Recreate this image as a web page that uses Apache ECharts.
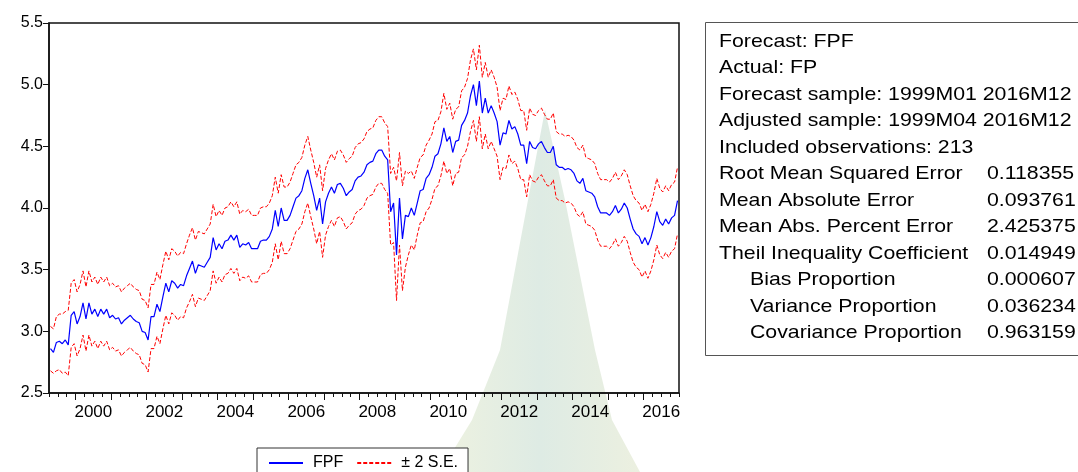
<!DOCTYPE html>
<html>
<head>
<meta charset="utf-8">
<script src="https://cdn.jsdelivr.net/npm/echarts@6/dist/echarts.min.js"></script>
<style>
html,body{margin:0;padding:0;background:#fff;}
#wrap{position:relative;width:1078px;height:472px;}
#bg{position:absolute;left:0;top:0;width:1078px;height:472px;}
#main{position:absolute;left:0;top:0;width:1078px;height:472px;}
</style>
</head>
<body>
<div id="wrap">
<svg id="bg" width="1078" height="472" xmlns="http://www.w3.org/2000/svg">
  <defs>
    <linearGradient id="wm" x1="0" y1="0" x2="1" y2="0">
      <stop offset="0" stop-color="rgb(238,242,224)"/>
      <stop offset="0.5" stop-color="rgb(222,235,228)"/>
      <stop offset="1" stop-color="rgb(236,240,224)"/>
    </linearGradient>
  </defs>
  <polygon points="545,110 565,200 595,350 612,420 640,472 440,472 472,420 500,350 528,200" fill="url(#wm)"/>
</svg>
<div id="main"></div>
</div>
<script>
// Monthly observations 1999M04 .. 2016M12 (213 obs)
const startYear = 1999, startMonth = 4, nObs = 213;
const months = [];
for (let i = 0; i < nObs; i++) {
  const m = startMonth - 1 + i;
  const y = startYear + Math.floor(m / 12);
  const mm = (m % 12) + 1;
  months.push(y + 'M' + (mm < 10 ? '0' + mm : mm));
}

// Forecast FPF
const fpf = [
  2.86,2.83,2.91,2.92,2.90,2.93,2.89,3.13,3.16,3.06,
  3.12,3.23,3.10,3.23,3.14,3.18,3.12,3.18,3.14,3.18,
  3.11,3.13,3.10,3.11,3.06,3.09,3.11,3.13,3.10,3.08,
  3.07,3.00,2.99,2.93,3.12,3.12,3.22,3.16,3.28,3.39,
  3.32,3.41,3.39,3.35,3.38,3.37,3.45,3.51,3.57,3.47,
  3.54,3.53,3.52,3.56,3.60,3.76,3.66,3.71,3.67,3.73,
  3.74,3.78,3.74,3.78,3.68,3.71,3.70,3.72,3.67,3.67,
  3.67,3.73,3.74,3.74,3.77,3.83,3.98,3.85,4.00,3.90,
  3.90,3.94,4.01,4.08,4.10,4.14,4.24,4.31,4.20,4.10,
  3.98,4.08,3.87,4.05,4.12,4.17,4.12,4.19,4.20,4.16,
  4.10,4.13,4.15,4.22,4.25,4.26,4.29,4.35,4.37,4.38,
  4.44,4.47,4.47,4.42,4.39,3.97,4.04,3.62,4.08,3.75,
  3.94,3.93,4.00,3.94,4.04,4.14,4.15,4.24,4.27,4.33,
  4.42,4.44,4.52,4.65,4.54,4.58,4.45,4.54,4.55,4.67,
  4.71,4.77,4.91,5.00,4.83,5.03,4.77,4.89,4.77,4.83,
  4.77,4.70,4.51,4.61,4.60,4.71,4.64,4.66,4.60,4.51,
  4.51,4.36,4.54,4.49,4.48,4.52,4.54,4.49,4.45,4.45,
  4.50,4.35,4.33,4.33,4.31,4.32,4.31,4.28,4.22,4.20,
  4.24,4.14,4.13,4.12,4.09,4.01,3.96,3.96,3.96,3.94,
  3.97,4.02,3.96,3.99,4.04,4.00,3.91,3.83,3.79,3.77,
  3.71,3.76,3.70,3.76,3.85,3.97,3.89,3.86,3.91,3.87,
  3.92,3.94,4.06
];

// Upper band (+2 S.E.)
const upper = [
  3.04,3.02,3.12,3.14,3.14,3.16,3.17,3.39,3.42,3.32,
  3.38,3.49,3.36,3.49,3.40,3.44,3.38,3.44,3.40,3.44,
  3.37,3.39,3.36,3.37,3.32,3.35,3.37,3.39,3.36,3.34,
  3.33,3.26,3.25,3.19,3.38,3.38,3.48,3.42,3.54,3.65,
  3.58,3.67,3.65,3.61,3.64,3.63,3.71,3.78,3.84,3.74,
  3.81,3.80,3.79,3.83,3.87,4.03,3.93,3.98,3.94,4.00,
  4.01,4.05,4.01,4.05,3.95,3.98,3.97,3.99,3.94,3.94,
  3.94,4.00,4.01,4.01,4.04,4.10,4.25,4.12,4.27,4.17,
  4.17,4.21,4.28,4.35,4.37,4.41,4.51,4.58,4.47,4.37,
  4.25,4.35,4.14,4.32,4.39,4.44,4.39,4.46,4.47,4.43,
  4.37,4.40,4.42,4.49,4.52,4.53,4.56,4.62,4.64,4.65,
  4.71,4.74,4.74,4.69,4.66,4.28,4.33,4.22,4.45,4.18,
  4.30,4.28,4.30,4.24,4.33,4.41,4.43,4.51,4.55,4.60,
  4.70,4.71,4.78,4.93,4.80,4.85,4.72,4.80,4.82,4.95,
  4.98,5.05,5.20,5.29,5.12,5.32,5.06,5.18,5.06,5.12,
  5.06,4.98,4.79,4.89,4.88,4.99,4.92,4.94,4.88,4.79,
  4.79,4.63,4.81,4.76,4.75,4.79,4.81,4.76,4.72,4.72,
  4.77,4.62,4.60,4.60,4.58,4.59,4.58,4.55,4.49,4.47,
  4.51,4.41,4.40,4.39,4.36,4.28,4.23,4.23,4.23,4.21,
  4.24,4.29,4.23,4.26,4.31,4.27,4.18,4.10,4.06,4.04,
  3.98,4.03,3.97,4.03,4.12,4.24,4.16,4.13,4.18,4.14,
  4.19,4.21,4.33
];

// Lower band (-2 S.E.)
const lower = [
  2.68,2.66,2.68,2.69,2.66,2.67,2.64,2.87,2.90,2.80,
  2.86,2.97,2.84,2.97,2.88,2.92,2.86,2.92,2.88,2.92,
  2.85,2.87,2.84,2.85,2.80,2.83,2.85,2.87,2.84,2.82,
  2.81,2.74,2.73,2.67,2.86,2.86,2.96,2.90,3.02,3.13,
  3.06,3.15,3.13,3.09,3.12,3.11,3.19,3.24,3.30,3.20,
  3.27,3.26,3.25,3.29,3.33,3.49,3.39,3.44,3.40,3.46,
  3.47,3.51,3.47,3.51,3.41,3.44,3.43,3.45,3.40,3.40,
  3.40,3.46,3.47,3.47,3.50,3.56,3.71,3.58,3.73,3.63,
  3.63,3.67,3.74,3.81,3.83,3.87,3.97,4.04,3.93,3.83,
  3.71,3.81,3.60,3.78,3.85,3.90,3.85,3.92,3.93,3.89,
  3.83,3.86,3.88,3.95,3.98,3.99,4.02,4.08,4.10,4.11,
  4.17,4.20,4.20,4.15,4.12,3.70,3.72,3.25,3.70,3.33,
  3.52,3.62,3.70,3.66,3.78,3.88,3.89,3.97,4.00,4.07,
  4.16,4.18,4.26,4.38,4.28,4.32,4.18,4.28,4.29,4.41,
  4.43,4.50,4.62,4.71,4.54,4.74,4.48,4.60,4.48,4.54,
  4.48,4.42,4.23,4.33,4.32,4.43,4.36,4.38,4.32,4.23,
  4.23,4.09,4.27,4.22,4.21,4.25,4.27,4.22,4.18,4.18,
  4.23,4.08,4.06,4.06,4.04,4.05,4.04,4.01,3.95,3.93,
  3.97,3.87,3.86,3.85,3.82,3.74,3.69,3.69,3.69,3.67,
  3.70,3.75,3.69,3.72,3.77,3.73,3.64,3.56,3.52,3.50,
  3.44,3.49,3.43,3.49,3.58,3.70,3.62,3.59,3.64,3.60,
  3.65,3.67,3.79
];

// Axis ticks / labels (axis unit = one month, 0 = start of 1999M04)
const yearTickPos = [9,21,33,45,57,69,81,93,105,117,129,141,153,165,177,189,201];
const yearLabelPos = [15,39,63,87,111,135,159,183,207];
const yearLabels = ['2000','2002','2004','2006','2008','2010','2012','2014','2016'];
const yTicks = ['2.5','3.0','3.5','4.0','4.5','5.0','5.5'];

// Statistics panel
const statLabels = [
  'Forecast: FPF', 'Actual: FP', 'Forecast sample: 1999M01 2016M12',
  'Adjusted sample: 1999M04 2016M12', 'Included observations: 213',
  'Root Mean Squared Error', 'Mean Absolute Error', 'Mean Abs. Percent Error',
  'Theil Inequality Coefficient', 'Bias Proportion', 'Variance Proportion',
  'Covariance Proportion'
];
const statValues = ['', '', '', '', '', '0.118355', '0.093761', '2.425375',
  '0.014949', '0.000607', '0.036234', '0.963159'];
const statIndent = [0,0,0,0,0,0,0,0,0,1,1,1];

const FONT = '"Liberation Sans", Arial, sans-serif';
const toXY = arr => arr.map((v, i) => [i + 0.5, v, months[i]]);

const panel = [];
panel.push({
  type: 'rect', z: 10, silent: true,
  shape: { x: 705.5, y: 22.5, width: 420, height: 333 },
  style: { fill: '#fff', stroke: '#555', lineWidth: 1 }
});
statLabels.forEach((t, k) => {
  const y = 41.7 + 26.5 * k;
  panel.push({
    type: 'text', z: 11, silent: true, x: statIndent[k] ? 750 : 719, y: y, scaleX: 1.12,
    style: { text: t, font: '19px ' + FONT, fill: '#000', verticalAlign: 'middle', align: 'left' }
  });
  if (statValues[k]) {
    panel.push({
      type: 'text', z: 11, silent: true, x: 987, y: y, scaleX: 1.12,
      style: { text: statValues[k], font: '19px ' + FONT, fill: '#000', verticalAlign: 'middle', align: 'left' }
    });
  }
});

const chart = echarts.init(document.getElementById('main'));
chart.setOption({
  animation: false,
  backgroundColor: 'transparent',
  textStyle: { fontFamily: FONT },
  grid: { left: 49, top: 23, right: 399, bottom: 79, show: true, borderColor: '#111', borderWidth: 1.5, backgroundColor: 'transparent' },
  legend: {
    data: ['FPF', '± 2 S.E.'],
    left: 257, top: 448,
    itemWidth: 34, itemHeight: 10, itemGap: 13,
    padding: [7, 10, 10, 11],
    borderColor: '#333', borderWidth: 1, backgroundColor: '#fff',
    itemStyle: { opacity: 0 },
    textStyle: { fontSize: 16, color: '#000', fontFamily: FONT, padding: [0, 0, 0, 5] }
  },
  xAxis: [
    {
      type: 'value', min: 0, max: nObs, interval: 3,
      axisLine: { show: true, lineStyle: { color: '#111', width: 1.5 } },
      axisTick: { show: true, length: 4, lineStyle: { color: '#111' } },
      axisLabel: { show: false },
      splitLine: { show: false }
    },
    {
      type: 'value', min: 0, max: nObs, position: 'bottom',
      axisLine: { show: false },
      axisTick: { show: true, length: 7, customValues: yearTickPos, lineStyle: { color: '#111' } },
      axisLabel: {
        show: true, customValues: yearLabelPos, fontSize: 17, color: '#000', margin: 11, fontFamily: FONT,
        formatter: v => yearLabels[yearLabelPos.indexOf(Math.round(v))] || ''
      },
      splitLine: { show: false }
    }
  ],
  yAxis: {
    type: 'value', min: 2.5, max: 5.5, interval: 0.5,
    axisLine: { show: true, lineStyle: { color: '#111', width: 1.5 } },
    axisTick: { show: true, length: 6, lineStyle: { color: '#111' } },
    axisLabel: { fontSize: 16, color: '#000', margin: 6, fontFamily: FONT,
      formatter: v => yTicks[Math.round((v - 2.5) / 0.5)] },
    splitLine: { show: false }
  },
  graphic: { elements: panel },
  series: [
    { name: '± 2 S.E.', type: 'line', data: toXY(upper), symbol: 'none', z: 3,
      lineStyle: { color: '#ff0000', width: 1, type: [4, 2] }, itemStyle: { color: '#ff0000' } },
    { name: '± 2 S.E.', type: 'line', data: toXY(lower), symbol: 'none', z: 3,
      lineStyle: { color: '#ff0000', width: 1, type: [4, 2] }, itemStyle: { color: '#ff0000' } },
    { name: 'FPF', type: 'line', data: toXY(fpf), symbol: 'none', z: 4,
      lineStyle: { color: '#0000ff', width: 1.2 }, itemStyle: { color: '#0000ff' } }
  ]
});
</script>
</body>
</html>
